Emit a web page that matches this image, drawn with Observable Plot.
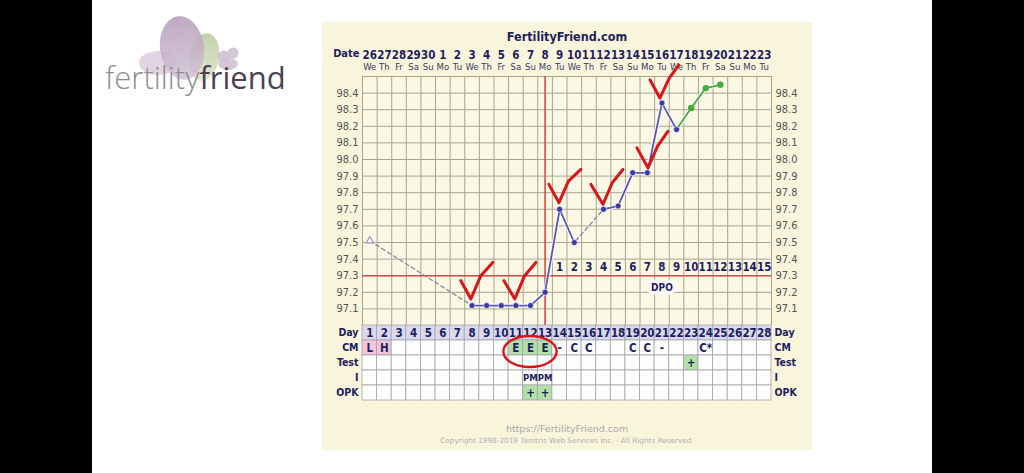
<!DOCTYPE html>
<html>
<head>
<meta charset="utf-8">
<script src="https://cdn.jsdelivr.net/npm/d3@7"></script>
<script src="https://cdn.jsdelivr.net/npm/@observablehq/plot@0.6"></script>
<style>
  html, body { margin: 0; padding: 0; background: #000; }
  #page { position: relative; width: 1024px; height: 473px; background: #000; overflow: hidden; }
  #white { position: absolute; left: 92px; top: 0; width: 840px; height: 473px; background: #fff; }
  #logo { position: absolute; left: 100px; top: 8px; width: 200px; height: 90px; }
  #logoText { position: absolute; left: 105px; top: 57px; font-family: "Open Sans", sans-serif; font-size: 31px; line-height: 40px; letter-spacing: 0px; }
  #panel { position: absolute; left: 322px; top: 22px; width: 490px; height: 428px; background: #f9f5dc; }
  #chart { position: absolute; left: 0; top: 0; }
  #table { position: absolute; left: 0; top: 303px; }
</style>
</head>
<body>
<div id="page">
  <div id="white"></div>
  <svg id="logo" viewBox="100 8 200 90" width="200" height="90">
    <defs>
      <linearGradient id="gp" x1="0" y1="0" x2="0" y2="1">
        <stop offset="0" stop-color="#b49ab9"/>
        <stop offset="1" stop-color="#d2c2d5"/>
      </linearGradient>
      <linearGradient id="gg" x1="0" y1="0" x2="0" y2="1">
        <stop offset="0" stop-color="#bccca2"/>
        <stop offset="1" stop-color="#dde5cc"/>
      </linearGradient>
    </defs>
    <ellipse cx="158" cy="63" rx="19" ry="12" fill="#ddd0de" opacity="0.9"/>
    <ellipse cx="204" cy="57" rx="15" ry="24" fill="url(#gg)" opacity="0.9" transform="rotate(10 204 57)"/>
    <ellipse cx="182" cy="48" rx="22" ry="32" fill="url(#gp)" opacity="0.85" transform="rotate(-8 182 48)"/>
    <circle cx="224" cy="57" r="6.5" fill="#cfc1d1" opacity="0.9"/>
    <circle cx="233" cy="53" r="5.5" fill="#cfc1d1" opacity="0.9"/>
    <ellipse cx="228" cy="64" rx="10" ry="6" fill="#cfc1d1" opacity="0.9"/>
  </svg>
  <div id="logoText"><span style="color:#8f8c90;font-weight:300">fertility</span><span style="color:#4b4150;font-weight:400">friend</span></div>
  <div id="panel">
    <div id="chart"></div>
    <div id="table"></div>
  </div>
</div>
<script>
// ---------- data ----------
const dayNums = [1,2,3,4,5,6,7,8,9,10,11,12,13,14,15,16,17,18,19,20,21,22,23,24,25,26,27,28];
const dateLabels = ["26","27","28","29","30","1","2","3","4","5","6","7","8","9","10","11","12","13","14","15","16","17","18","19","20","21","22","23"];
const weekdayLabels = ["We","Th","Fr","Sa","Su","Mo","Tu","We","Th","Fr","Sa","Su","Mo","Tu","We","Th","Fr","Sa","Su","Mo","Tu","We","Th","Fr","Sa","Su","Mo","Tu"];
const temps = [97.51,null,null,null,null,null,null,97.12,97.12,97.12,97.12,97.12,97.20,97.70,97.50,null,97.70,97.72,97.92,97.92,98.34,98.18,98.31,98.43,98.45,null,null,null];
const openMarkerDays = [1];
const greenDays = [22,23,24,25];
const ovulationDay = 13;
const coverline = 97.3;
const dpoDays = [14,15,16,17,18,19,20,21,22,23,24,25,26,27,28];
const dpoLabels = ["1","2","3","4","5","6","7","8","9","10","11","12","13","14","15"];
const tempTicks = [97.1,97.2,97.3,97.4,97.5,97.6,97.7,97.8,97.9,98.0,98.1,98.2,98.3,98.4];
const tempGrid = [97.0,97.1,97.2,97.3,97.4,97.5,97.6,97.7,97.8,97.9,98.0,98.1,98.2,98.3,98.4,98.5];

const rowNames = ["Day","CM","Test","I","OPK"];
const cmDays = [1,2,11,12,13,14,15,16,19,20,21,24];
const cmLabels = ["L","H","E","E","E","-","C","C","C","C","-","C*"];
const testDays = [23];
const testLabels = ["+"];
const intercourseDays = [12,13];
const intercourseLabels = ["PM","PM"];
const opkDays = [12,13];
const opkLabels = ["+","+"];
const circledDays = [11,12,13];

// hand-drawn check marks (day, temperature)
const checkMarks = [
  [[7.23,97.27],[7.92,97.16],[8.6,97.3],[9.42,97.38]],
  [[10.18,97.27],[10.93,97.16],[11.6,97.3],[12.37,97.38]],
  [[13.26,97.85],[13.95,97.74],[14.6,97.87],[15.45,97.94]],
  [[16.14,97.85],[16.96,97.73],[17.6,97.86],[18.33,97.94]],
  [[19.29,98.07],[20.04,97.95],[20.7,98.08],[21.41,98.17]],
  [[20.18,98.48],[20.86,98.37],[21.5,98.49],[22.16,98.57]]
];

// ---------- styles ----------
const NAVY = "#1e1e5e";
const GRID = "#a9a392";
const RED = "#d44a4a";
const BLUE = "#5656b8";
const DOT = "#3a3aa2";
const GREEN = "#44ad3c";
const FONT = "DejaVu Sans Condensed, DejaVu Sans, sans-serif";
const PINK = "#f2c4da";
const LGREEN = "#b3e0a6";
const LAV = "#d9d9ef";

const W = 490, ML = 40, MR = 41;
const xDomain = [0.5, 28.5];

const series = dayNums.map((d, i) => ({day: d, temp: temps[i]}));
const defined = series.filter(d => d.temp != null);
const solid = series.filter(d => d.day >= 2 && d.day <= greenDays[0]);
const green = series.filter(d => greenDays.includes(d.day));
const blueDots = defined.filter(d => !openMarkerDays.includes(d.day) && d.day <= greenDays[0]);
const greenDots = defined.filter(d => greenDays.includes(d.day) && d.day > greenDays[0]);
const openDots = defined.filter(d => openMarkerDays.includes(d.day));
const checkData = checkMarks.flatMap((pts, id) => pts.map(([day, temp]) => ({id, day, temp})));
const boundaries = dayNums.map(d => d - 0.5).concat([dayNums[dayNums.length - 1] + 0.5]);

const chart = Plot.plot({
  width: W, height: 303,
  marginTop: 54, marginBottom: 0, marginLeft: ML, marginRight: MR,
  x: {domain: xDomain},
  y: {domain: [97.0, 98.5]},
  style: {background: "transparent", fontFamily: FONT, fontSize: "11px", overflow: "visible"},
  marks: [
    Plot.frame({fill: "#fbf8e4", stroke: null}),
    Plot.ruleX(boundaries, {stroke: GRID, strokeWidth: 1}),
    Plot.ruleY(tempGrid, {stroke: GRID, strokeWidth: 1}),
    Plot.axisY(tempTicks, {anchor: "left", tickSize: 0, tickPadding: 4, tickFormat: d => d.toFixed(1), fill: "#555", fontSize: 11, label: null}),
    Plot.axisY(tempTicks, {anchor: "right", tickSize: 0, tickPadding: 4, tickFormat: d => d.toFixed(1), fill: "#555", fontSize: 11, label: null}),
    Plot.axisX(dayNums, {anchor: "top", tickSize: 0, tickPadding: 18, tickFormat: d => dateLabels[d - 1], fill: NAVY, fontWeight: "bold", fontSize: 11.5, label: null}),
    Plot.axisX(dayNums, {anchor: "top", tickSize: 0, tickPadding: 7, tickFormat: d => weekdayLabels[d - 1], fill: "#3a3a60", fontSize: 9.5, label: null}),
    Plot.text(["Date"], {frameAnchor: "top-left", dx: -3, dy: -27, textAnchor: "end", fill: NAVY, fontWeight: "bold", fontSize: 11}),
    Plot.text(["FertilityFriend.com"], {frameAnchor: "top", dy: -44, fill: NAVY, fontWeight: "bold", fontSize: 12.5}),
    Plot.ruleY([coverline], {stroke: RED, strokeWidth: 1.6}),
    Plot.ruleX([ovulationDay], {stroke: RED, strokeWidth: 1.6}),
    Plot.text(dpoDays, {x: d => d, y: coverline, dy: -8, text: (d, i) => dpoLabels[i], fill: NAVY, fontWeight: "bold", fontSize: 11.5}),
    Plot.text(["DPO"], {x: d3.mean(dpoDays), y: coverline, dy: 12, fill: NAVY, fontWeight: "bold", fontSize: 10, stroke: "white", strokeWidth: 7, paintOrder: "stroke"}),
    Plot.line(defined.filter(d => d.day <= greenDays[0]), {x: "day", y: "temp", stroke: "#8a8aa8", strokeWidth: 1.3, strokeDasharray: "4,3"}),
    Plot.line(solid, {x: "day", y: "temp", stroke: "white", strokeWidth: 4, strokeOpacity: 0.8}),
    Plot.line(solid, {x: "day", y: "temp", stroke: BLUE, strokeWidth: 1.8}),
    Plot.line(green, {x: "day", y: "temp", stroke: "white", strokeWidth: 4, strokeOpacity: 0.8}),
    Plot.line(green, {x: "day", y: "temp", stroke: GREEN, strokeWidth: 1.8}),
    Plot.dot(blueDots, {x: "day", y: "temp", r: 3, fill: DOT, stroke: "white", strokeWidth: 0.6}),
    Plot.dot(greenDots, {x: "day", y: "temp", r: 3.2, fill: GREEN}),
    Plot.dot(openDots, {x: "day", y: "temp", r: 2.8, symbol: "triangle", fill: "#f4f4ff", stroke: "#8080b8", strokeWidth: 1}),
    Plot.line(checkData, {x: "day", y: "temp", z: "id", stroke: "#d8161a", strokeWidth: 3, strokeLinecap: "round", strokeLinejoin: "round", curve: "linear"})
  ]
});
document.getElementById("chart").appendChild(chart);

// ---------- table ----------
const fillByLabel = {L: PINK, H: PINK, E: LGREEN};
const entries = [];
dayNums.forEach(d => entries.push({row: "Day", day: d, label: String(d), fill: LAV}));
cmDays.forEach((d, i) => entries.push({row: "CM", day: d, label: cmLabels[i], fill: fillByLabel[cmLabels[i]]}));
testDays.forEach((d, i) => entries.push({row: "Test", day: d, label: testLabels[i], fill: LGREEN}));
intercourseDays.forEach((d, i) => entries.push({row: "I", day: d, label: intercourseLabels[i], fill: null}));
opkDays.forEach((d, i) => entries.push({row: "OPK", day: d, label: opkLabels[i], fill: LGREEN}));
const cells = rowNames.flatMap(r => dayNums.map(d => {
  const e = entries.find(e => e.row === r && e.day === d);
  return {row: r, day: d, fill: (e && e.fill) || "#fdfdfb"};
}));

const table = Plot.plot({
  width: W, height: 125,
  marginTop: 0, marginBottom: 50, marginLeft: ML, marginRight: MR,
  x: {domain: xDomain, axis: null},
  y: {type: "band", domain: rowNames, padding: 0},
  style: {background: "transparent", fontFamily: FONT, fontSize: "11px", overflow: "visible"},
  marks: [
    Plot.barX(cells, {x1: d => d.day - 0.5, x2: d => d.day + 0.5, y: "row", fill: "fill", stroke: "#a4a4ae", strokeWidth: 0.8, inset: 0}),
    Plot.axisY(rowNames, {anchor: "left", tickSize: 0, tickPadding: 4, fill: NAVY, fontWeight: "bold", fontSize: 10.5, label: null}),
    Plot.axisY(rowNames, {anchor: "right", tickSize: 0, tickPadding: 3, fill: NAVY, fontWeight: "bold", fontSize: 10.5, label: null}),
    Plot.text(entries, {x: "day", y: "row", text: "label", fill: NAVY, fontWeight: "bold", fontSize: d => d.label === "PM" ? 9.5 : 11.5}),
    Plot.text(["https://FertilityFriend.com"], {frameAnchor: "bottom", dy: 31, fill: "#a8a8a8", fontSize: 9.5, fontFamily: "DejaVu Sans, sans-serif"}),
    Plot.text(["Copyright 1998-2019 Tamtris Web Services Inc. - All Rights Reserved."], {frameAnchor: "bottom", dy: 42, fill: "#b0b0b0", fontSize: 7.3, fontFamily: "DejaVu Sans, sans-serif"})
  ]
});
document.getElementById("table").appendChild(table);

// red hand-drawn ellipse around the circled CM cells
{
  const sx = table.scale("x"), sy = table.scale("y");
  const cx = sx.apply(d3.mean(circledDays));
  const cy = sy.apply("CM") + sy.bandwidth / 2 + 4;
  const rx = (sx.apply(circledDays[circledDays.length - 1]) - sx.apply(circledDays[0])) / 2 + 12;
  d3.select(table).append("ellipse")
    .attr("cx", cx).attr("cy", cy).attr("rx", rx).attr("ry", 15.5)
    .attr("fill", "none").attr("stroke", "#d8161a").attr("stroke-width", 2.4);
}
</script>
</body>
</html>
